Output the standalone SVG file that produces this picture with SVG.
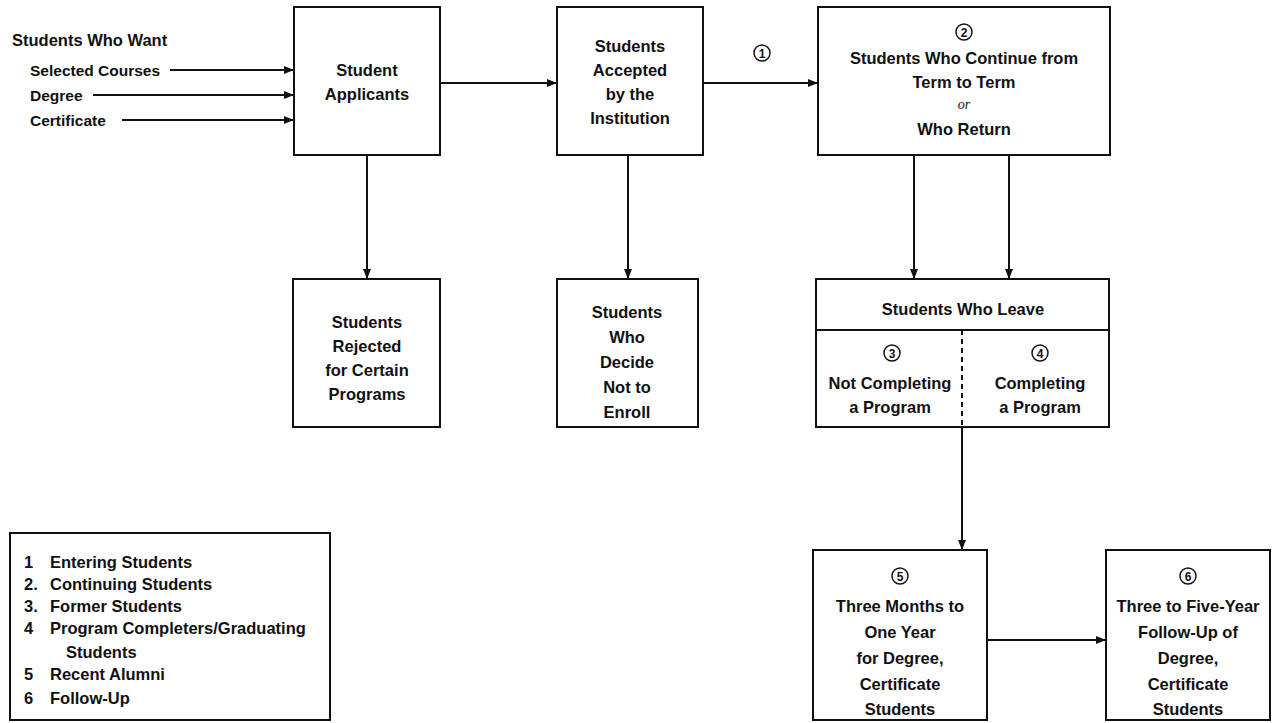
<svg xmlns="http://www.w3.org/2000/svg" width="1277" height="723" viewBox="0 0 1277 723">
<style>
.box{fill:#fff;stroke:#111;stroke-width:2}
.t{font-family:"Liberation Sans",Arial,sans-serif;font-size:16.5px;font-weight:bold;fill:#111;text-anchor:middle}
.l{font-family:"Liberation Sans",Arial,sans-serif;font-size:16.5px;font-weight:bold;fill:#111}
.s{font-family:"Liberation Sans",Arial,sans-serif;font-size:15.5px;font-weight:bold;fill:#111}
.c{fill:none;stroke:#111;stroke-width:1.5}
.n{font-family:"Liberation Sans",Arial,sans-serif;font-size:12px;font-weight:bold;fill:#111;text-anchor:middle}
.e{fill:none;stroke:#111;stroke-width:2}
.i{font-family:"Liberation Serif",serif;font-style:italic;font-size:14px;fill:#111;text-anchor:middle}
</style>
<defs>
<marker id="a" viewBox="0 0 10 10" refX="10" refY="5" markerWidth="15" markerHeight="10" markerUnits="userSpaceOnUse" orient="auto">
<path d="M0,1 L10,5 L0,9 Z" fill="#111"/>
</marker>
</defs>
<rect width="1277" height="723" fill="#fff"/>
<g id="connectors">
<line class="e" x1="170" y1="70" x2="294" y2="70" marker-end="url(#a)"/>
<line class="e" x1="93" y1="95" x2="294" y2="95" marker-end="url(#a)"/>
<line class="e" x1="122" y1="120" x2="294" y2="120" marker-end="url(#a)"/>
<line class="e" x1="440" y1="83" x2="557" y2="83" marker-end="url(#a)"/>
<line class="e" x1="703" y1="83" x2="818" y2="83" marker-end="url(#a)"/>
<line class="e" x1="367" y1="155" x2="367" y2="279" marker-end="url(#a)"/>
<line class="e" x1="628" y1="155" x2="628" y2="279" marker-end="url(#a)"/>
<line class="e" x1="914" y1="155" x2="914" y2="279" marker-end="url(#a)"/>
<line class="e" x1="1009" y1="155" x2="1009" y2="279" marker-end="url(#a)"/>
<line class="e" x1="962" y1="427" x2="962" y2="550" marker-end="url(#a)"/>
<line class="e" x1="987" y1="640" x2="1106" y2="640" marker-end="url(#a)"/>
<g id="label1"><circle class="c" cx="762" cy="53" r="8"/><text class="n" x="762" y="57.5">1</text></g>
</g>
<g id="inputs">
<text class="l" x="12" y="46">Students Who Want</text>
<text class="s" x="30" y="76">Selected Courses</text>
<text class="s" x="30" y="101">Degree</text>
<text class="s" x="30" y="126">Certificate</text>
</g>
<g id="applicants">
<rect class="box" x="294" y="7" width="146" height="148"/>
<text class="t" x="367" y="76">Student</text>
<text class="t" x="367" y="100">Applicants</text>
</g>
<g id="accepted">
<rect class="box" x="557" y="7" width="146" height="148"/>
<text class="t" x="630" y="52">Students</text>
<text class="t" x="630" y="76">Accepted</text>
<text class="t" x="630" y="100">by the</text>
<text class="t" x="630" y="124">Institution</text>
</g>
<g id="continue">
<rect class="box" x="818" y="7" width="292" height="148"/>
<circle class="c" cx="964" cy="32" r="8"/><text class="n" x="964" y="36.5">2</text>
<text class="t" x="964" y="64">Students Who Continue from</text>
<text class="t" x="964" y="88">Term to Term</text>
<text class="i" x="964" y="109">or</text>
<text class="t" x="964" y="135">Who Return</text>
</g>
<g id="rejected">
<rect class="box" x="293" y="279" width="147" height="148"/>
<text class="t" x="367" y="328">Students</text>
<text class="t" x="367" y="352">Rejected</text>
<text class="t" x="367" y="376">for Certain</text>
<text class="t" x="367" y="400">Programs</text>
</g>
<g id="decide">
<rect class="box" x="557" y="279" width="141" height="148"/>
<text class="t" x="627" y="318">Students</text>
<text class="t" x="627" y="343">Who</text>
<text class="t" x="627" y="368">Decide</text>
<text class="t" x="627" y="393">Not to</text>
<text class="t" x="627" y="418">Enroll</text>
</g>
<g id="leave">
<rect class="box" x="816" y="279" width="293" height="148"/>
<line class="e" x1="816" y1="330" x2="1109" y2="330"/>
<line x1="962" y1="330" x2="962" y2="427" stroke="#111" stroke-width="2" stroke-dasharray="5,4"/>
<text class="t" x="963" y="315">Students Who Leave</text>
<circle class="c" cx="892" cy="353" r="8"/><text class="n" x="892" y="357.5">3</text>
<text class="t" x="890" y="389">Not Completing</text>
<text class="t" x="890" y="413">a Program</text>
<circle class="c" cx="1040" cy="353" r="8"/><text class="n" x="1040" y="357.5">4</text>
<text class="t" x="1040" y="389">Completing</text>
<text class="t" x="1040" y="413">a Program</text>
</g>
<g id="recent">
<rect class="box" x="813" y="550" width="174" height="170"/>
<circle class="c" cx="900" cy="576" r="8"/><text class="n" x="900" y="580.5">5</text>
<text class="t" x="900" y="612">Three Months to</text>
<text class="t" x="900" y="638">One Year</text>
<text class="t" x="900" y="664">for Degree,</text>
<text class="t" x="900" y="690">Certificate</text>
<text class="t" x="900" y="715">Students</text>
</g>
<g id="followup">
<rect class="box" x="1106" y="550" width="164" height="170"/>
<circle class="c" cx="1188" cy="576" r="8"/><text class="n" x="1188" y="580.5">6</text>
<text class="t" x="1188" y="612">Three to Five-Year</text>
<text class="t" x="1188" y="638">Follow-Up of</text>
<text class="t" x="1188" y="664">Degree,</text>
<text class="t" x="1188" y="690">Certificate</text>
<text class="t" x="1188" y="715">Students</text>
</g>
<g id="legend">
<rect class="box" x="10" y="533" width="320" height="187"/>
<text class="l" x="24" y="568">1</text><text class="l" x="50" y="568">Entering Students</text>
<text class="l" x="24" y="590">2.</text><text class="l" x="50" y="590">Continuing Students</text>
<text class="l" x="24" y="612">3.</text><text class="l" x="50" y="612">Former Students</text>
<text class="l" x="24" y="634">4</text><text class="l" x="50" y="634">Program Completers/Graduating</text>
<text class="l" x="66" y="658">Students</text>
<text class="l" x="24" y="680">5</text><text class="l" x="50" y="680">Recent Alumni</text>
<text class="l" x="24" y="704">6</text><text class="l" x="50" y="704">Follow-Up</text>
</g>
</svg>
